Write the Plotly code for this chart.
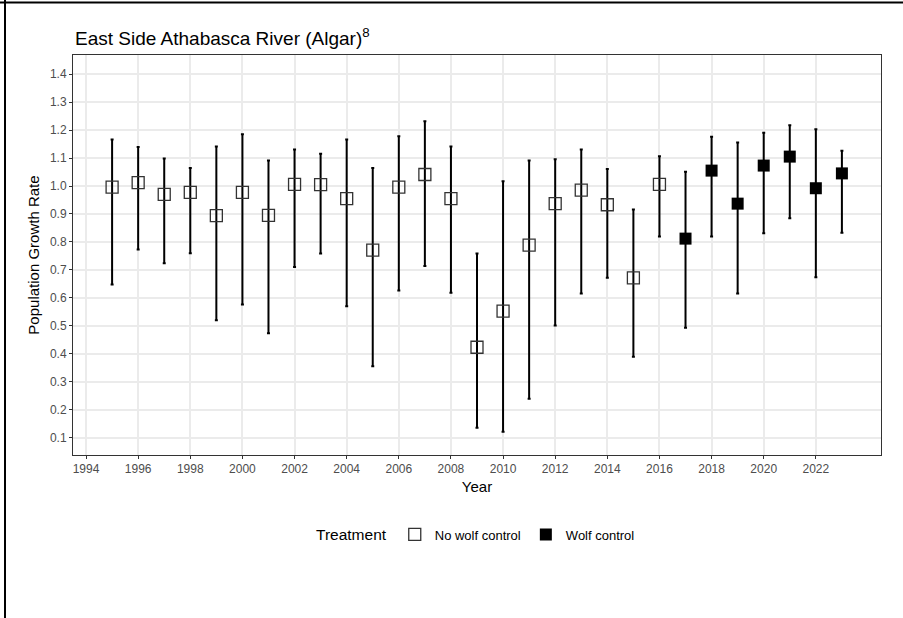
import plotly.graph_objects as go

# ---- data ----
years_no_control = [1995, 1996, 1997, 1998, 1999, 2000, 2001, 2002, 2003, 2004, 2005,
                    2006, 2007, 2008, 2009, 2010, 2011, 2012, 2013, 2014, 2015, 2016]
rate_no_control = [0.996, 1.012, 0.970, 0.977, 0.894, 0.977, 0.895, 1.006, 1.005, 0.955, 0.771,
                   0.996, 1.041, 0.955, 0.424, 0.553, 0.789, 0.937, 0.985, 0.933, 0.672, 1.006]
upper_no_control = [1.166, 1.139, 1.098, 1.064, 1.141, 1.185, 1.091, 1.130, 1.115, 1.166, 1.064,
                    1.178, 1.231, 1.141, 0.759, 1.017, 1.091, 1.096, 1.130, 1.061, 0.916, 1.106]
lower_no_control = [0.648, 0.773, 0.724, 0.760, 0.520, 0.577, 0.474, 0.711, 0.759, 0.570, 0.356,
                    0.627, 0.714, 0.619, 0.136, 0.122, 0.240, 0.502, 0.616, 0.672, 0.390, 0.820]

years_wolf_control = [2017, 2018, 2019, 2020, 2021, 2022, 2023]
rate_wolf_control = [0.812, 1.055, 0.937, 1.073, 1.105, 0.992, 1.045]
upper_wolf_control = [1.051, 1.176, 1.155, 1.190, 1.217, 1.203, 1.126]
lower_wolf_control = [0.494, 0.820, 0.616, 0.831, 0.885, 0.674, 0.833]

x_tick_vals = list(range(1994, 2023, 2))
x_tick_text = [str(v) for v in x_tick_vals]
y_tick_vals = [0.1, 0.2, 0.3, 0.4, 0.5, 0.6, 0.7, 0.8, 0.9, 1.0, 1.1, 1.2, 1.3, 1.4]
y_tick_text = ["0.1", "0.2", "0.3", "0.4", "0.5", "0.6", "0.7", "0.8", "0.9", "1.0", "1.1", "1.2", "1.3", "1.4"]
reference_rate = 1.0

FONT = "Liberation Sans, Arial, sans-serif"


def err(vals, hi, lo):
    return dict(type="data", symmetric=False,
                array=[h - v for v, h in zip(vals, hi)],
                arrayminus=[v - l for v, l in zip(vals, lo)],
                color="black", thickness=2, width=1.5)


fig = go.Figure()
fig.add_trace(go.Scatter(
    x=years_no_control, y=rate_no_control, mode="markers", name="No wolf control",
    error_y=err(rate_no_control, upper_no_control, lower_no_control),
    marker=dict(symbol="square-open", size=12, color="#333333",
                line=dict(width=1.3, color="#333333")),
))
fig.add_trace(go.Scatter(
    x=years_wolf_control, y=rate_wolf_control, mode="markers", name="Wolf control",
    error_y=err(rate_wolf_control, upper_wolf_control, lower_wolf_control),
    marker=dict(symbol="square", size=12, color="black"),
))

fig.add_shape(type="line", xref="paper", x0=0, x1=1, yref="y", y0=reference_rate, y1=reference_rate,
              line=dict(color="black", width=2, dash="8px,5px"), layer="between")

# outer frame lines seen at top and left of the reference image
W, H = 903, 618
L, R, T, B = 73, 22, 55, 163
pw, ph = W - L - R, H - T - B


def px_x(x):
    return (x - L) / pw


def px_y(y):
    return (H - B - y) / ph


fig.add_shape(type="line", xref="paper", yref="paper",
              x0=px_x(0), x1=px_x(W), y0=px_y(2.5), y1=px_y(2.5),
              line=dict(color="black", width=2))
fig.add_shape(type="line", xref="paper", yref="paper",
              x0=px_x(5), x1=px_x(5), y0=px_y(0), y1=px_y(H),
              line=dict(color="black", width=2))

axis_common = dict(showline=True, linecolor="#333333", linewidth=1, mirror=True,
                   ticks="outside", ticklen=3, tickcolor="#333333", tickwidth=1,
                   showgrid=True, gridcolor="#ebebeb", gridwidth=1.5, zeroline=False,
                   tickfont=dict(family=FONT, size=12, color="#4d4d4d"))

fig.update_layout(
    width=W, height=H,
    margin=dict(l=L, r=R, t=T, b=B),
    paper_bgcolor="white", plot_bgcolor="white",
    font=dict(family=FONT, color="black"),
    title=dict(text="East Side Athabasca River (Algar)<sup>8</sup>",
               font=dict(family=FONT, size=19, color="black"),
               x=75 / W, xanchor="left", xref="container",
               y=1 - 38 / H, yanchor="middle", yref="container"),
    xaxis=dict(range=[1993.5, 2024.5], tickmode="array", tickvals=x_tick_vals, ticktext=x_tick_text,
               title=dict(text="Year", font=dict(family=FONT, size=15, color="black"), standoff=6),
               **axis_common),
    yaxis=dict(range=[0.039, 1.468], tickmode="array", tickvals=y_tick_vals, ticktext=y_tick_text,
               title=dict(text="Population Growth Rate", font=dict(family=FONT, size=15, color="black"), standoff=6),
               **axis_common),
    legend=dict(orientation="h", x=0.5, xanchor="center", y=px_y(535), yanchor="middle",
                title=dict(text="Treatment", font=dict(family=FONT, size=15.5, color="black"), side="left"),
                font=dict(family=FONT, size=13, color="black"),
                itemwidth=30, bgcolor="rgba(0,0,0,0)"),
    showlegend=True,
)

fig.write_html("out.html")
